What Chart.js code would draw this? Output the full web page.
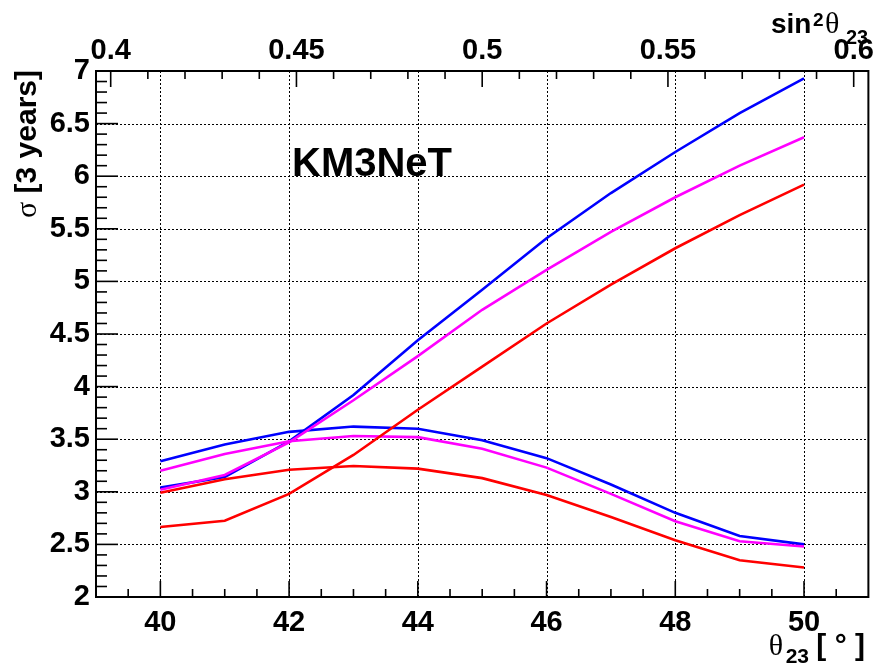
<!DOCTYPE html>
<html>
<head>
<meta charset="utf-8">
<script src="https://cdn.jsdelivr.net/npm/chart.js@4.4.1/dist/chart.umd.min.js"></script>
<style>
  html, body { margin: 0; padding: 0; background: #ffffff; }
  #wrap { width: 877px; height: 666px; }
</style>
</head>
<body>
<div id="wrap"><canvas id="c" width="877" height="666"></canvas></div>
<script>
// ---- data ----
const thetaDeg = [40, 41, 42, 43, 44, 45, 46, 47, 48, 49, 50];
const blueRise    = [3.04, 3.14, 3.48, 3.92, 4.44, 4.92, 5.41, 5.84, 6.23, 6.60, 6.93];
const blueHump    = [3.29, 3.45, 3.57, 3.62, 3.60, 3.49, 3.32, 3.07, 2.80, 2.58, 2.50];
const magentaRise = [3.02, 3.16, 3.47, 3.87, 4.29, 4.73, 5.11, 5.47, 5.80, 6.10, 6.37];
const magentaHump = [3.20, 3.36, 3.48, 3.53, 3.52, 3.41, 3.23, 2.98, 2.72, 2.53, 2.48];
const redRise     = [2.665, 2.725, 2.98, 3.35, 3.78, 4.19, 4.60, 4.97, 5.315, 5.63, 5.92];
const redHump     = [2.99, 3.12, 3.21, 3.245, 3.22, 3.13, 2.97, 2.76, 2.54, 2.35, 2.28];

const xTickLabels   = [40, 42, 44, 46, 48, 50];
const topTickLabels = [0.4, 0.45, 0.5, 0.55, 0.6];
const yTickLabels   = [2, 2.5, 3, 3.5, 4, 4.5, 5, 5.5, 6, 6.5, 7];
const xRange = [39, 51];
const yRange = [2, 7];

const sin2 = d => Math.pow(Math.sin(d * Math.PI / 180), 2);

const FONT = 'Liberation Sans, Arial, Helvetica, sans-serif';
const SERIF = 'Liberation Serif, DejaVu Serif, serif';
const BLUE = '#0000ff', MAGENTA = '#ff00ff', RED = '#ff0000';

function series(arr) { return thetaDeg.map((x, i) => ({ x: x, y: arr[i] })); }
function ds(arr, color, order) {
  return { data: series(arr), borderColor: color, backgroundColor: color, borderWidth: 2.6,
           pointRadius: 0, tension: 0, fill: false, order: order };
}

const framePlugin = {
  id: 'rootFrame',
  beforeDatasetsDraw(chart) {
    const { ctx, chartArea: a, scales } = chart;
    ctx.save();
    ctx.strokeStyle = '#000';
    ctx.lineWidth = 1;
    ctx.setLineDash([2, 2]);
    xTickLabels.forEach(v => {
      const px = Math.round(scales.x.getPixelForValue(v)) + 0.5;
      ctx.beginPath(); ctx.moveTo(px, a.top); ctx.lineTo(px, a.bottom); ctx.stroke();
    });
    yTickLabels.forEach(v => {
      if (v <= yRange[0] || v >= yRange[1]) return;
      const py = Math.round(scales.y.getPixelForValue(v)) + 0.5;
      ctx.beginPath(); ctx.moveTo(a.left, py); ctx.lineTo(a.right, py); ctx.stroke();
    });
    ctx.restore();
  },
  afterDatasetsDraw(chart) {
    const { ctx, chartArea: a, scales } = chart;
    ctx.save();
    ctx.strokeStyle = '#000';
    ctx.setLineDash([]);
    ctx.lineWidth = 1.6;
    // bottom ticks every 0.5 deg
    for (let k = Math.ceil(xRange[0] * 2); k <= Math.floor(xRange[1] * 2); k++) {
      const v = k / 2;
      if (v <= xRange[0] || v >= xRange[1]) continue;
      const major = xTickLabels.indexOf(v) >= 0;
      const px = scales.x.getPixelForValue(v);
      ctx.beginPath(); ctx.moveTo(px, a.bottom); ctx.lineTo(px, a.bottom - (major ? 16 : 8)); ctx.stroke();
    }
    // top ticks every 0.01 in sin^2
    for (let k = 40; k <= 60; k++) {
      const v = k / 100;
      const major = (k % 5 === 0);
      const px = scales.x2.getPixelForValue(v);
      ctx.beginPath(); ctx.moveTo(px, a.top); ctx.lineTo(px, a.top + (major ? 16 : 8)); ctx.stroke();
    }
    // left ticks every 0.1
    for (let k = yRange[0] * 10 + 1; k < yRange[1] * 10; k++) {
      const v = k / 10;
      const major = (k % 5 === 0);
      const py = scales.y.getPixelForValue(v);
      ctx.beginPath(); ctx.moveTo(a.left, py); ctx.lineTo(a.left + (major ? 22 : 11), py); ctx.stroke();
    }
    // frame
    ctx.lineWidth = 2;
    ctx.strokeRect(a.left, a.top, a.right - a.left, a.bottom - a.top);
    ctx.restore();
  },
  afterDraw(chart) {
    const { ctx } = chart;
    ctx.save();
    ctx.fillStyle = '#000';
    ctx.textBaseline = 'alphabetic';
    // KM3NeT label
    ctx.font = 'bold 40px ' + FONT;
    ctx.textAlign = 'left';
    ctx.fillText('KM3NeT', 292, 176);

    // x title: θ23 [ ° ]
    ctx.textAlign = 'right';
    ctx.font = 'bold 30px ' + FONT;
    ctx.fillText('[ \u00b0 ]', 865, 655);
    ctx.font = 'bold 21px ' + FONT;
    ctx.fillText('23', 809, 663);
    ctx.font = '30px ' + SERIF;
    ctx.fillText('\u03b8', 783, 655);

    // top title: sin^2 θ23
    ctx.textAlign = 'left';
    ctx.font = 'bold 28px ' + FONT;
    ctx.fillText('sin', 771, 33);
    ctx.font = 'bold 19px ' + FONT;
    ctx.fillText('2', 813, 26);
    ctx.font = '30px ' + SERIF;
    ctx.fillText('\u03b8', 825, 33);
    ctx.font = 'bold 20px ' + FONT;
    ctx.fillText('23', 846, 44);

    // y title: σ [3 years]
    ctx.translate(36, 70);
    ctx.rotate(-Math.PI / 2);
    ctx.textAlign = 'right';
    ctx.font = 'bold 30px ' + FONT;
    const t = '[3 years]';
    ctx.fillText(t, 0, 0);
    const w = ctx.measureText(t + ' ').width;
    ctx.font = '30px ' + SERIF;
    ctx.fillText('\u03c3', -w, 0);
    ctx.restore();
  }
};

const tickFont = { family: FONT, size: 29, weight: 'bold' };

new Chart(document.getElementById('c'), {
  type: 'line',
  data: {
    datasets: [
      ds(redRise, RED, 1), ds(redHump, RED, 1),
      ds(magentaRise, MAGENTA, 2), ds(magentaHump, MAGENTA, 2),
      ds(blueRise, BLUE, 3), ds(blueHump, BLUE, 3)
    ]
  },
  options: {
    responsive: false,
    devicePixelRatio: 1,
    animation: false,
    layout: { padding: { left: 0, right: 8, top: 0, bottom: 0 } },
    plugins: { legend: { display: false }, tooltip: { enabled: false } },
    scales: {
      x: {
        type: 'linear', position: 'bottom', min: xRange[0], max: xRange[1],
        grid: { display: false, drawTicks: false }, border: { display: false },
        afterBuildTicks: s => { s.ticks = xTickLabels.map(v => ({ value: v })); },
        afterFit: s => { s.height = 69; },
        ticks: { font: tickFont, color: '#000', padding: 9, maxRotation: 0, autoSkip: false,
                 callback: v => String(v) }
      },
      x2: {
        type: 'linear', position: 'top', min: sin2(xRange[0]), max: sin2(xRange[1]),
        grid: { display: false, drawTicks: false }, border: { display: false },
        afterBuildTicks: s => { s.ticks = topTickLabels.map(v => ({ value: v })); },
        afterFit: s => { s.height = 71; },
        ticks: { font: tickFont, color: '#000', padding: 3, maxRotation: 0, autoSkip: false,
                 callback: v => String(v) }
      },
      y: {
        type: 'linear', position: 'left', min: yRange[0], max: yRange[1],
        grid: { display: false, drawTicks: false }, border: { display: false },
        afterBuildTicks: s => { s.ticks = yTickLabels.map(v => ({ value: v })); },
        afterFit: s => { s.width = 96; },
        ticks: { font: tickFont, color: '#000', padding: 6, autoSkip: false,
                 callback: v => String(v) }
      }
    }
  },
  plugins: [framePlugin]
});
</script>
</body>
</html>
